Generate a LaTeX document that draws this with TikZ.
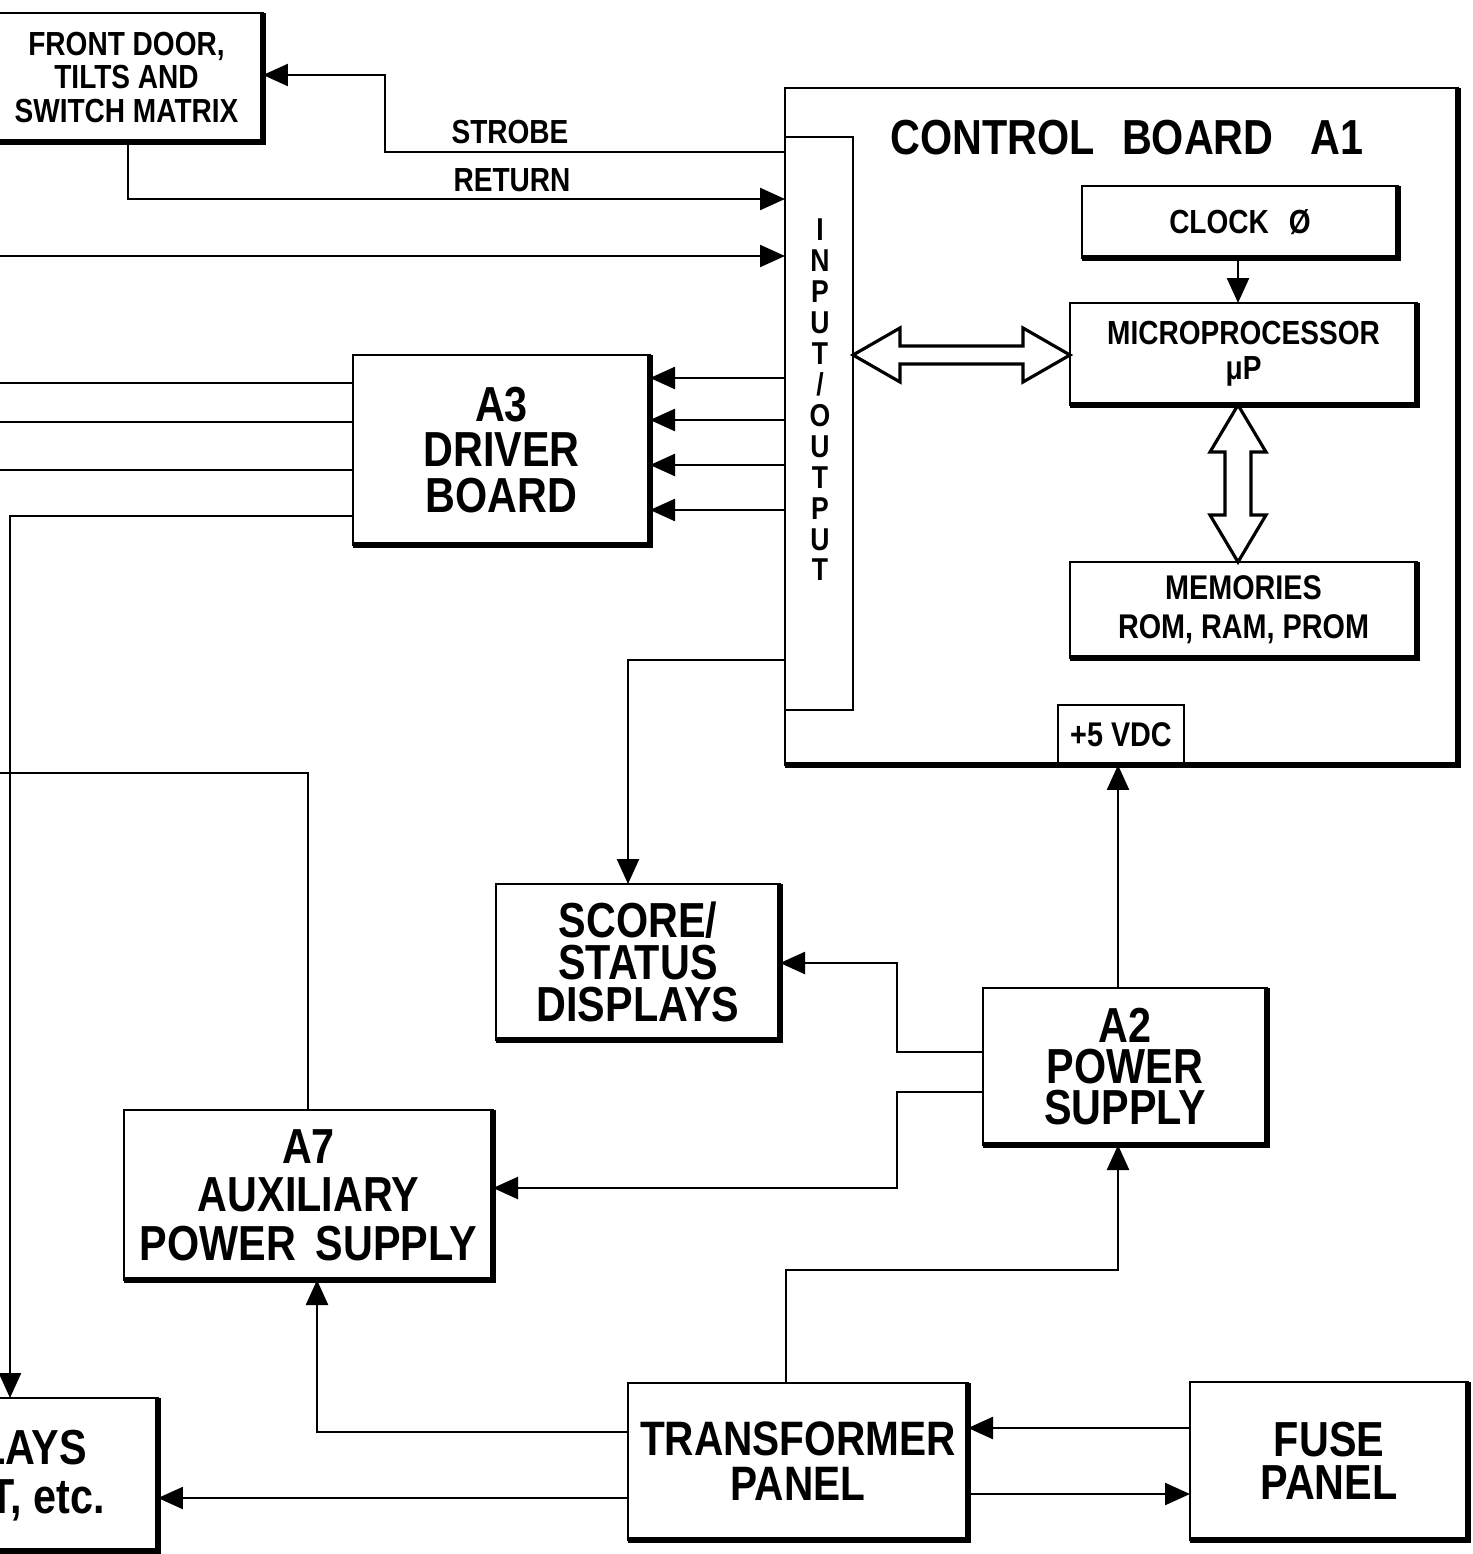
\documentclass[tikz,border=0pt]{standalone}
\usepackage{fontspec}
\setmainfont{Liberation Sans}
\newfontfamily\cf{Liberation Sans}[FakeStretch=0.84]
\usetikzlibrary{arrows.meta}
\newcommand\fbig{\cf\bfseries\fontsize{28}{25.5}\selectfont}
\newcommand\fsm{\cf\bfseries\fontsize{19}{19.5}\selectfont}
\tikzset{
  box/.style={draw, line width=1.6pt, inner sep=0pt, outer sep=0pt, align=center},
  ln/.style={line width=1.4pt},
  arr/.style={line width=1.4pt, -{Triangle[length=0.5cm,width=0.44cm]}},
  lbl/.style={inner sep=0pt, font=\fsm},
  hollow/.style={line width=1.8pt, line join=miter}
}
\newcommand\mybox[7]{\node[box,font=\cf\bfseries#7,minimum width={((#4)-(#2))*0.02cm},minimum height={((#5)-(#3))*0.02cm}] (#1) at ({((#2)+(#4))/2},{((#3)+(#5))/2}) {#6};}
\begin{document}
\begin{tikzpicture}[x=0.02cm,y=-0.02cm]
\clip (0,0) rectangle (1472,1554);
\fill[white] (0,0) rectangle (1472,1554);
% boxes
\mybox{fd}{-10}{13}{263}{142}{FRONT DOOR,\\TILTS AND\\SWITCH MATRIX}{\fontsize{19}{19.3}\selectfont}
\mybox{cb}{785}{88}{1458}{765}{}{\fsm}
\mybox{io}{785}{137}{853}{710}{}{\fsm}
\mybox{clk}{1082}{186}{1398}{258}{CLOCK\hspace{0.6em}Ø}{\fontsize{19}{19}\selectfont}
\mybox{mp}{1070}{303}{1417}{405}{MICROPROCESSOR\\μP}{\fontsize{19}{19.8}\selectfont}
\mybox{mem}{1070}{562}{1417}{658}{MEMORIES\\ROM, RAM, PROM}{\fontsize{19.5}{22}\selectfont}
\node[inner sep=0pt, outer sep=0pt, minimum width=2.52cm, minimum height=1.2cm, font=\cf\bfseries\fontsize{19.5}{20}\selectfont] (vdc) at (1121,735) {+5 VDC};
\draw[line width=1.6pt] (vdc.south west) -- (vdc.north west) -- (vdc.north east) -- (vdc.south east);
\mybox{a3}{353}{355}{650}{545}{A3\\DRIVER\\BOARD}{\fontsize{28}{26}\selectfont}
\mybox{score}{496}{884}{780}{1040}{SCORE/\\STATUS\\DISPLAYS}{\fontsize{28}{24}\selectfont}
\mybox{a2}{983}{988}{1267}{1145}{A2\\POWER\\SUPPLY}{\fontsize{28}{23.5}\selectfont}
\mybox{a7}{124}{1110}{493}{1280}{A7\\AUXILIARY\\POWER\hspace{0.4em}SUPPLY}{\fontsize{28}{27.5}\selectfont}
\mybox{tr}{628}{1383}{968}{1540}{TRANSFORMER\\PANEL}{\fontsize{27.5}{25.5}\selectfont}
\mybox{fuse}{1190}{1382}{1468}{1540}{FUSE\\PANEL}{\fontsize{28}{24.4}\selectfont}
\mybox{rel}{-200}{1398}{158}{1551}{}{\fbig}
% shadows (heavier bottom and right edges)
\foreach \n in {fd,cb,clk,mp,mem,a3,score,a2,a7,tr,fuse,rel}
  \draw[line width=3pt] (\n.south west) -- (\n.south east) -- (\n.north east);
% texts
\node[inner sep=0pt, font=\cf\bfseries\fontsize{28}{28}\selectfont] (cbt) at (1127,138) {CONTROL\hspace{0.55em}BOARD\hspace{0.75em}A1};
\node[inner sep=0pt, align=center, font=\cf\bfseries\fontsize{18}{17.6}\selectfont] (iot) at (820,400) {I\\N\\P\\U\\T\\/\\O\\U\\T\\P\\U\\T};
\node[lbl] (strobe) at (510,132) {STROBE};
\node[lbl] (return) at (512,180) {RETURN};
\node[inner sep=0pt, anchor=east, font=\fbig] (relt1) at (87,1448) {LAYS};
\node[inner sep=0pt, anchor=east, font=\fbig] (relt2) at (105,1500) {T, etc.};
% hollow double arrows
\draw[hollow] (io.east |- 0,355) -- (900,328) -- (900,346) -- (1023,346) -- (1023,328) -- (mp.west |- 0,355) -- (1023,382) -- (1023,364) -- (900,364) -- (900,382) -- cycle;
\draw[hollow] (mp.south -| 1238,0) -- (1266,452) -- (1251,452) -- (1251,515) -- (1266,515) -- (mem.north -| 1238,0) -- (1210,515) -- (1225,515) -- (1225,452) -- (1210,452) -- cycle;
% connectors
\draw[arr] (io.west |- 0,152) -| (385,75) -- (fd.east |- 0,75);
\draw[arr] (fd.south -| 128,0) |- (io.west |- 0,199);
\coordinate (in3) at (0,256);
\draw[arr] (in3) -- (io.west |- 0,256);
\foreach \y in {378,420,465,510}
  \draw[arr] (io.west |- 0,\y) -- (a3.east |- 0,\y);
\foreach \y in {383,422,470}
  \draw[ln] (a3.west |- 0,\y) -- (0,\y);
\draw[arr] (a3.west |- 0,516) -| (rel.north -| 10,0);
\draw[arr] (clk.south -| 1238,0) -- (mp.north -| 1238,0);
\draw[arr] (io.west |- 0,660) -| (score.north -| 628,0);
\draw[arr] (a2.west |- 0,1052) -| (897,963) -- (score.east |- 0,963);
\draw[arr] (a2.west |- 0,1092) -| (897,1188) -- (a7.east |- 0,1188);
\draw[arr] (a2.north -| 1118,0) -- (vdc.south -| 1118,0);
\coordinate (out7) at (0,773);
\draw[ln] (a7.north -| 308,0) |- (out7);
\draw[arr] (tr.north -| 786,0) |- (1118,1270) -- (a2.south -| 1118,0);
\draw[arr] (tr.west |- 0,1432) -| (a7.south -| 317,0);
\draw[arr] (tr.west |- 0,1498) -- (rel.east |- 0,1498);
\draw[arr] (fuse.west |- 0,1428) -- (tr.east |- 0,1428);
\draw[arr] (tr.east |- 0,1494) -- (fuse.west |- 0,1494);
\end{tikzpicture}
\end{document}
